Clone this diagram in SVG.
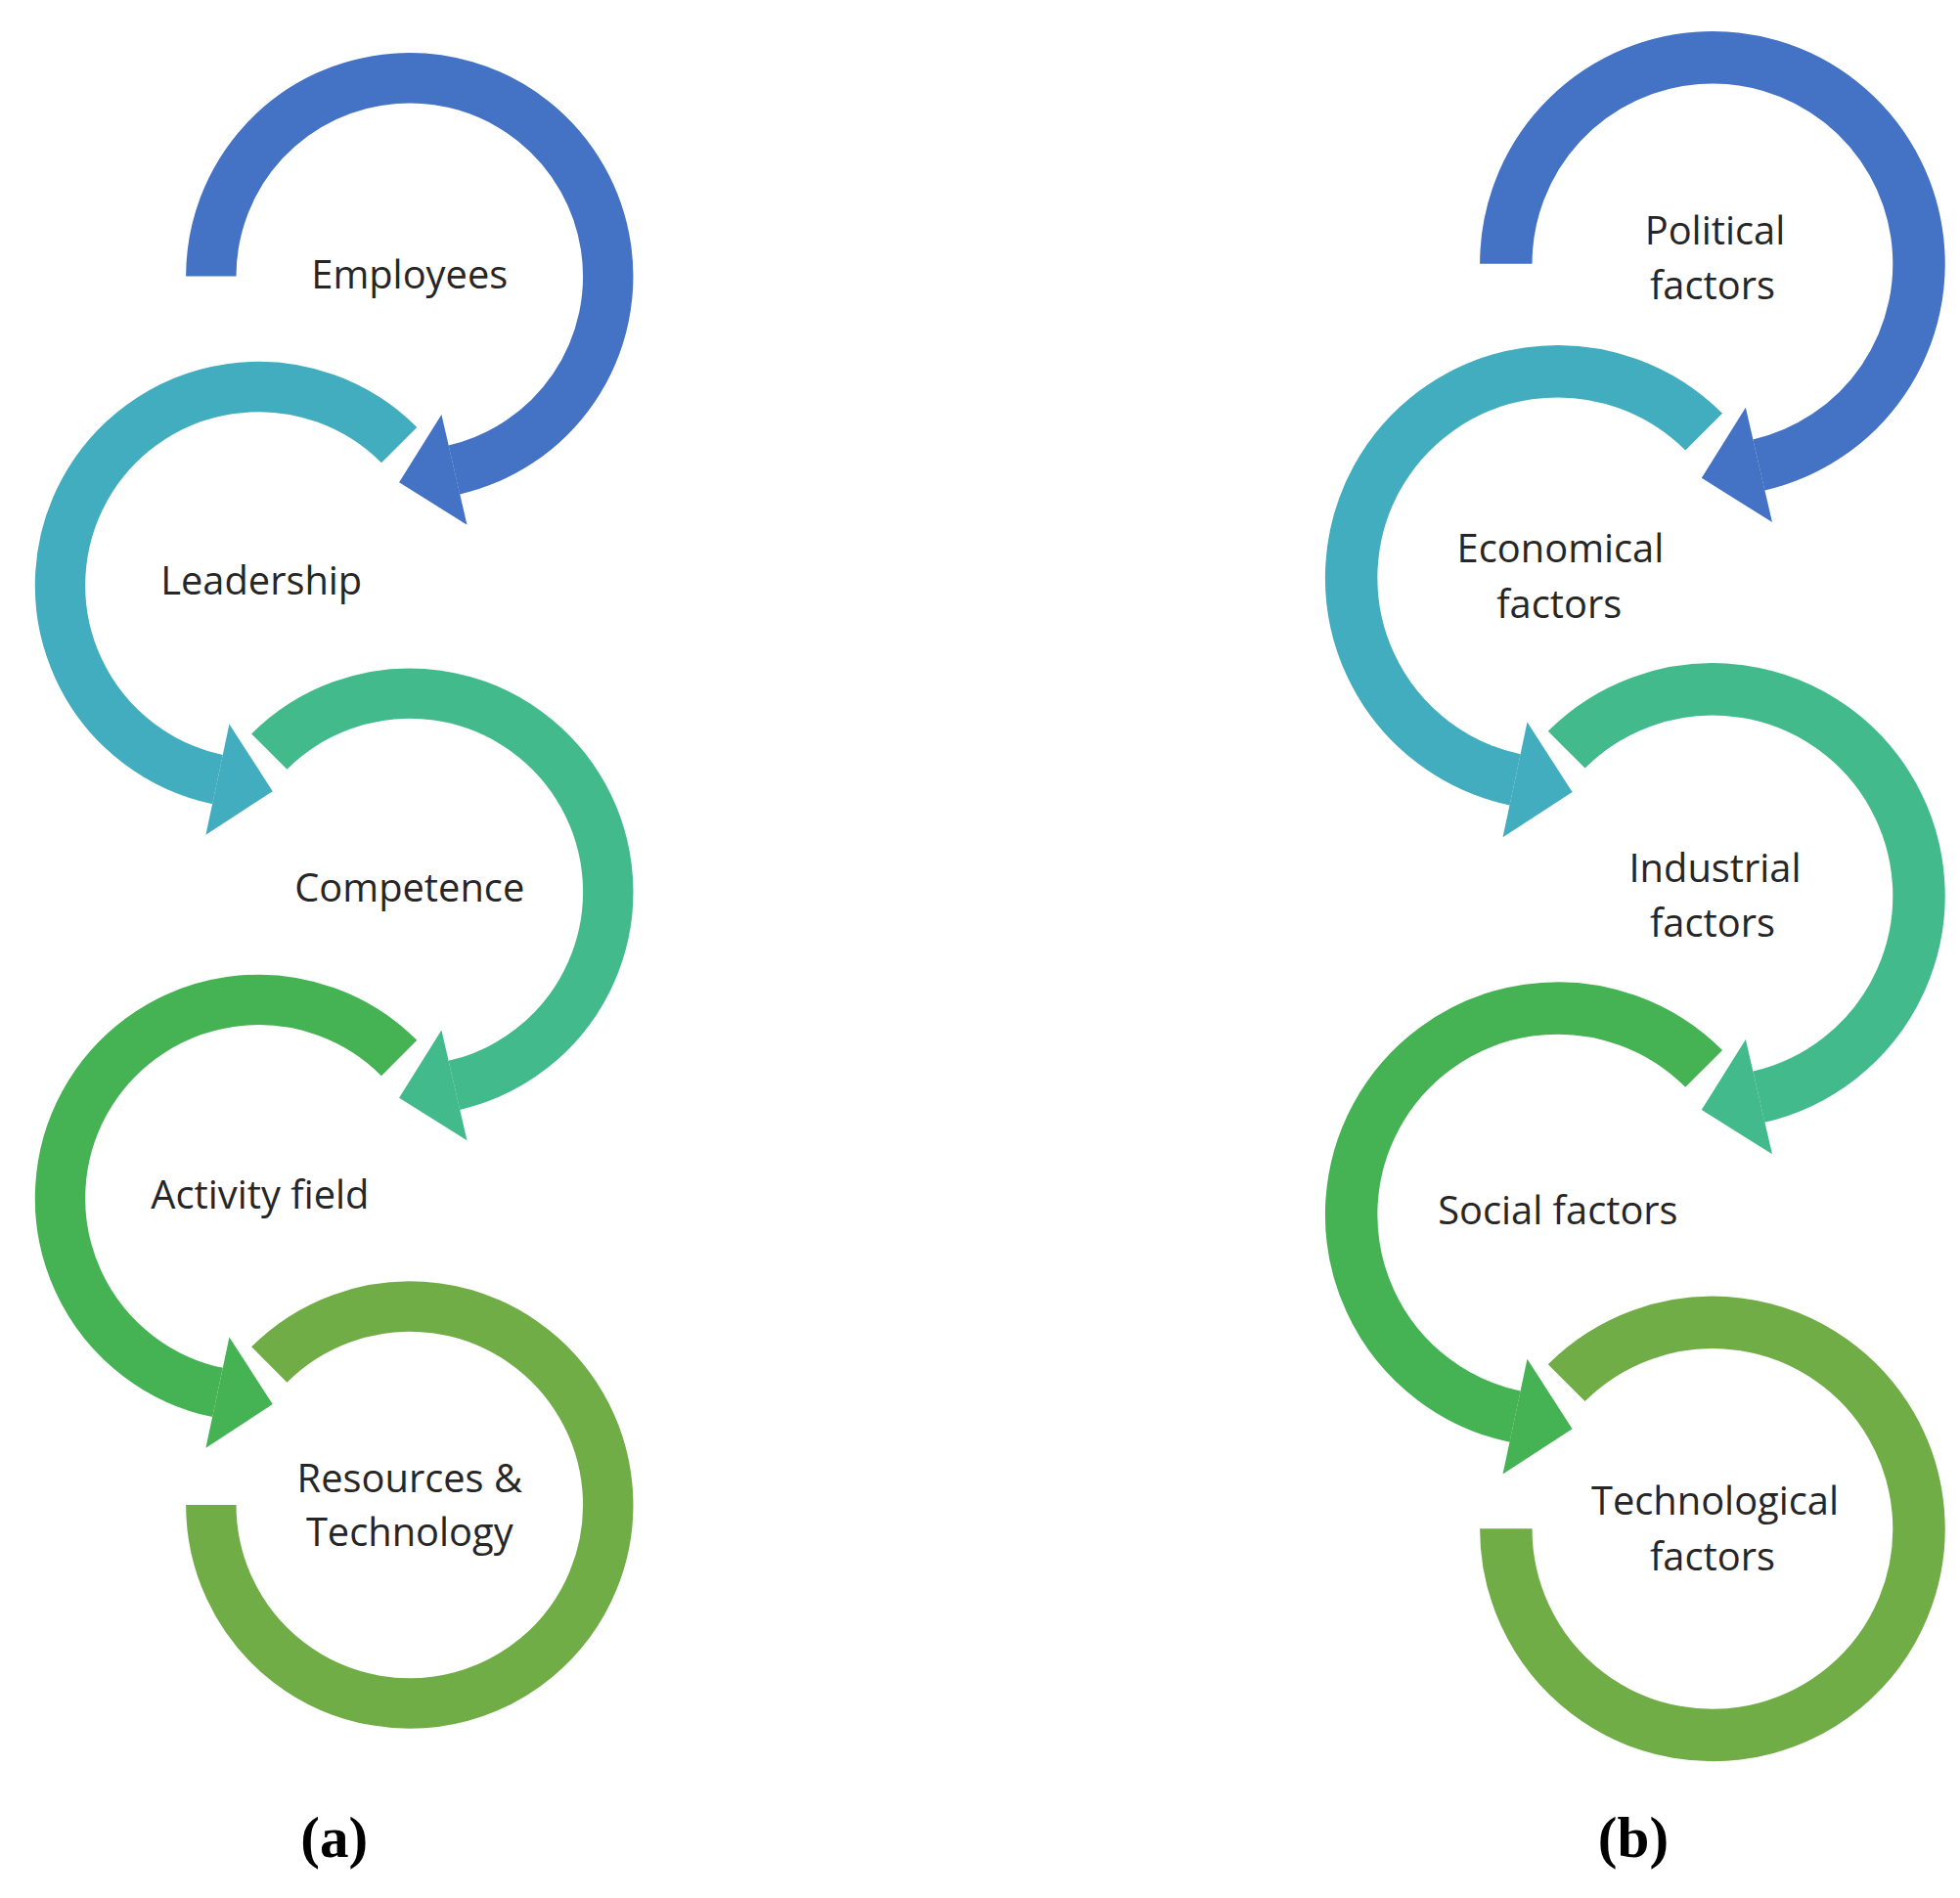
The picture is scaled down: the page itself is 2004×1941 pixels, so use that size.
<svg xmlns="http://www.w3.org/2000/svg" width="2004" height="1941" viewBox="0 0 2004 1941">
<style>
.a{fill:none;stroke-width:40}
.t{font-family:"Open Sans","Noto Sans",sans-serif;font-size:31px;fill:#262626;text-anchor:middle}
.c{font-family:"Liberation Serif",serif;font-size:46px;font-weight:bold;fill:#000;text-anchor:middle}
</style>
<rect width="2004" height="1941" fill="#fff"/>
<defs>
<g id="s1"><path class="a" stroke="#4472C4" d="M168,220 A158,158 0 1 1 361.5,374"/><polygon fill="#4472C4" points="351.4,330.1 371.7,417.8 317.7,384"/></g>
<g id="s2"><path class="a" stroke="#42ADBF" d="M317.7,354.3 A158,158 0 1 0 173.2,620.5"/><polygon fill="#42ADBF" points="182.5,576.5 163.8,664.6 217,629.9"/></g>
<g id="s3"><path class="a" stroke="#43BA8C" d="M214.3,598.3 A158,158 0 1 1 361.5,864"/><polygon fill="#43BA8C" points="351.4,820.1 371.7,907.8 317.7,874"/></g>
<g id="s4"><path class="a" stroke="#45B253" d="M317.7,842.3 A158,158 0 1 0 173.2,1108.5"/><polygon fill="#45B253" points="182.5,1064.5 163.8,1152.6 217,1117.9"/></g>
<g id="s5"><path class="a" stroke="#71AD47" d="M214.3,1086.3 A158,158 0 1 1 168,1198"/></g>
</defs>
<g transform="scale(1.2846)">
<g id="connectors">
<use href="#s1"/><use href="#s2"/><use href="#s3"/><use href="#s4"/><use href="#s5"/>
<use href="#s1" transform="translate(1363,210) scale(1.04) translate(-326,-220)"/>
<use href="#s2" transform="translate(1240,460) scale(1.04) translate(-206,-466)"/>
<use href="#s3" transform="translate(1363,713) scale(1.04) translate(-326,-710)"/>
<use href="#s4" transform="translate(1240,967) scale(1.04) translate(-206,-954)"/>
<use href="#s5" transform="translate(1363,1217) scale(1.04) translate(-326,-1198)"/>
</g>
<g id="employees"><text class="t" x="326" y="230">Employees</text></g>
<g id="leadership"><text class="t" x="208" y="473">Leadership</text></g>
<g id="competence"><text class="t" x="326" y="718">Competence</text></g>
<g id="activity"><text class="t" x="207" y="962">Activity field</text></g>
<g id="resources"><text class="t" x="326" y="1188">Resources &amp;</text><text class="t" x="326" y="1231">Technology</text></g>
<g id="political"><text class="t" x="1365" y="195">Political</text><text class="t" x="1363" y="238">factors</text></g>
<g id="economical"><text class="t" x="1242" y="448">Economical</text><text class="t" x="1241" y="492">factors</text></g>
<g id="industrial"><text class="t" x="1365" y="702">Industrial</text><text class="t" x="1363" y="746">factors</text></g>
<g id="social"><text class="t" x="1240" y="975">Social factors</text></g>
<g id="technological"><text class="t" x="1365" y="1206">Technological</text><text class="t" x="1363" y="1250">factors</text></g>
<text class="c" x="266" y="1478">(a)</text>
<text class="c" x="1300" y="1478">(b)</text>
</g>
</svg>
